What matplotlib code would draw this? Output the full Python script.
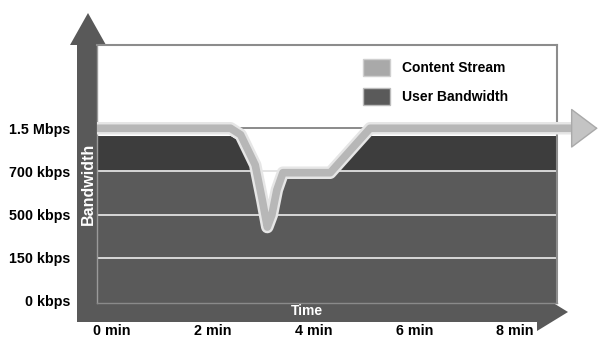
import matplotlib as mpl
import matplotlib.pyplot as plt
from matplotlib.patches import Patch, Polygon

mpl.rcParams["font.family"] = ["Liberation Sans", "DejaVu Sans"]
mpl.rcParams["font.weight"] = "bold"

# ---- data (time in minutes, bandwidth as level index on the categorical axis)
TIME = [-0.3, 2.35, 2.55, 2.84, 2.98, 3.08, 3.17, 3.27, 3.39, 4.33, 5.12, 8.83]
STREAM = [4.0, 4.0, 3.85, 3.15, 2.34, 1.71, 1.99, 2.57, 2.97, 2.97, 4.0, 4.0]
USER = [3.82, 3.82, 3.68, 3.0, 2.2, 1.6, 1.85, 2.42, 2.84, 2.84, 3.82, 3.82]
STREAM_END = 9.64  # arrow tip beyond the last minute

Y_LEVELS = [0, 1, 2, 3, 4]
Y_LABELS = ["0 kbps", "150 kbps", "500 kbps", "700 kbps", "1.5 Mbps"]
X_TICKS = [0, 2, 4, 6, 8]
X_LABELS = ["0 min", "2 min", "4 min", "6 min", "8 min"]

W, H = 604, 340
DARK = "#3d3d3d"
MID = "#5a5a5a"
AXIS = "#595959"

fig = plt.figure(figsize=(W / 100, H / 100), dpi=100)

# background layer in pixel coords for the big axis arrows
bg = fig.add_axes([0, 0, 1, 1], zorder=0)
bg.set_xlim(0, W)
bg.set_ylim(H, 0)
bg.axis("off")
bg.add_patch(Polygon([(77, 322), (77, 45), (70, 45), (88, 13), (106, 45),
                      (97, 45), (97, 322)], closed=True, color=AXIS, lw=0))
bg.add_patch(Polygon([(77, 303), (537, 303), (537, 293), (568, 312),
                      (537, 331), (537, 322), (77, 322)], closed=True,
                     color=AXIS, lw=0))
bg.text(88, 184, "Bandwidth", rotation=90, color="white", fontsize=11.5,
        ha="center", va="center")
bg.text(307, 311, "Time", color="white", fontsize=10, ha="center", va="center")

# main chart area
ax = fig.add_axes([97 / W, (H - 303) / H, 460 / W, 258 / H], zorder=1)
ax.set_xlim(-0.3, 8.83)
ax.set_ylim(-0.05, 5.93)

ax.fill_between(TIME, -0.05, USER, color=MID, lw=0, zorder=1)
ax.fill_between(TIME, 3, USER, where=[u > 3 for u in USER], interpolate=True,
                color=DARK, lw=0, zorder=1)
for lv in Y_LEVELS[1:4]:
    ax.axhline(lv, color="#e2e2e2", lw=1.3, zorder=2)

# target line across the dip
ax.hlines(STREAM[0], TIME[1], TIME[10], color="#777777", lw=1.2, zorder=2)

# content stream band
st_x = TIME[:-1] + [STREAM_END - 0.45]
st_y = STREAM[:-1] + [STREAM[-1]]
ax.plot(st_x, st_y, color="#e6e6e6", lw=9, solid_joinstyle="round",
        solid_capstyle="butt", clip_on=False, zorder=3)
ax.plot(st_x, st_y, color="#b7b7b7", lw=5.5, solid_joinstyle="round",
        solid_capstyle="butt", clip_on=False, zorder=4)
ax.annotate("", xy=(STREAM_END, STREAM[-1]), xytext=(STREAM_END - 0.5, STREAM[-1]),
            arrowprops=dict(arrowstyle="-|>,head_length=0.4,head_width=0.3",
                            mutation_scale=45, fc="#c4c4c4", ec="#a9a9a9",
                            lw=1, shrinkA=0, shrinkB=0),
            annotation_clip=False, zorder=5)

ax.set_yticks(Y_LEVELS)
ax.set_yticklabels(Y_LABELS)
ax.set_xticks(X_TICKS)
ax.set_xticklabels(X_LABELS)
ax.tick_params(axis="y", length=0, pad=19, labelsize=10.3)
ax.tick_params(axis="x", length=0, pad=15, labelsize=10.3)

for side in ("top", "right"):
    ax.spines[side].set_color("#8c8c8c")
    ax.spines[side].set_linewidth(1.5)
ax.spines["left"].set_color("#9a9a9a")
ax.spines["bottom"].set_color("#8a8a8a")
ax.spines["left"].set_linewidth(1)
ax.spines["bottom"].set_linewidth(1)

handles = [Patch(facecolor="#a9a9a9", edgecolor="#cfcfcf", label="Content Stream"),
           Patch(facecolor=MID, edgecolor="#bbbbbb", label="User Bandwidth")]
ax.legend(handles=handles, loc="upper left", bbox_to_anchor=(0.578, 0.945),
          frameon=False, fontsize=10, handlelength=1.95, handleheight=1.5,
          handletextpad=0.85, labelspacing=0.85, borderpad=0, borderaxespad=0)

fig.savefig("out.png", dpi=100)
